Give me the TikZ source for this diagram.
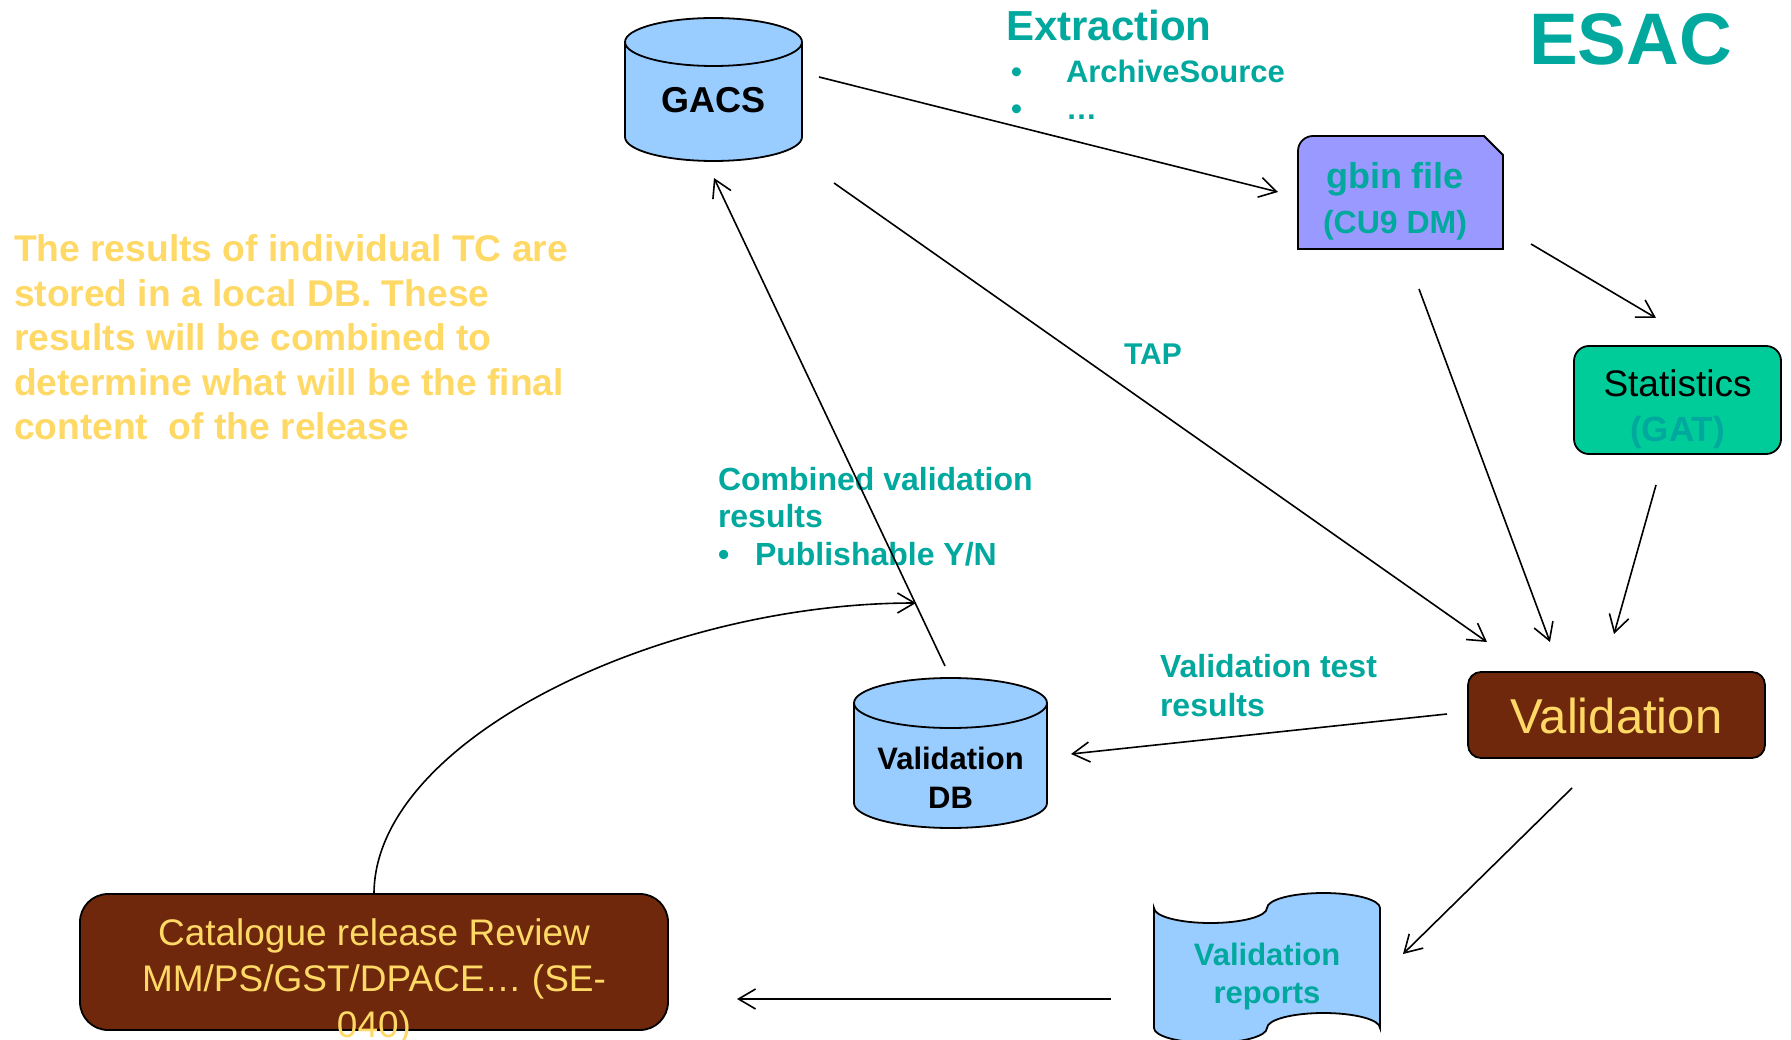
\documentclass[tikz,border=0pt]{standalone}
\usepackage{fontspec}
\setmainfont{Liberation Sans}
\usetikzlibrary{arrows.meta,calc}
\definecolor{esateal}{RGB}{0,168,158}
\definecolor{esayel}{RGB}{255,217,102}
\definecolor{esabrown}{RGB}{112,40,12}
\definecolor{cylblue}{RGB}{153,204,255}
\definecolor{lav}{RGB}{153,153,255}
\definecolor{statgreen}{RGB}{0,204,153}
\newcommand\txtlines[2]{\begin{tabular}[t]{@{}#1@{}}#2\end{tabular}}
\tikzset{
  conn/.style={-{Straight Barb[length=17pt,width=20pt]}, line width=1.6pt, black},
  shapeline/.style={draw=black, line width=1.8pt},
  anchorbox/.style={inner sep=0pt, outer sep=0pt, draw=none},
  boxnode/.style={anchorbox, shapeline},
  lbl/.style={inner sep=0pt, outer sep=0pt, anchor=base west, text=esateal},
  ctr/.style={inner sep=0pt, outer sep=0pt, anchor=base},
}
\begin{document}
\begin{tikzpicture}[x=1pt,y=-1pt]
\useasboundingbox (0,0) rectangle (1791,1040);
\fill[white] (0,0) rectangle (1791,1040);

% ---------- GACS cylinder
\path[fill=cylblue, shapeline] (625,42) -- (625,137)
  arc[start angle=180,end angle=0,x radius=88.5,y radius=24] -- (802,42)
  arc[start angle=0,end angle=-180,x radius=88.5,y radius=24] -- cycle;
\draw[shapeline] (625,42) arc[start angle=180,end angle=0,x radius=88.5,y radius=24];
\node[anchorbox, minimum width=177pt, minimum height=143pt] (gacs) at (713.5,89.5) {};
\node[ctr, font=\fontsize{36}{43}\selectfont\bfseries] (gacstxt) at (713.5,113) {GACS};

% ---------- Validation DB cylinder
\path[fill=cylblue, shapeline] (854,703) -- (854,803)
  arc[start angle=180,end angle=0,x radius=96.5,y radius=25] -- (1047,703)
  arc[start angle=0,end angle=-180,x radius=96.5,y radius=25] -- cycle;
\draw[shapeline] (854,703) arc[start angle=180,end angle=0,x radius=96.5,y radius=25];
\node[anchorbox, minimum width=193pt, minimum height=150pt] (vdb) at (950.5,753) {};
\node[ctr, font=\fontsize{31}{39}\selectfont\bfseries] (vdbtxt) at (950.5,769) {\txtlines{c}{Validation\\DB}};

% ---------- gbin file
\path[fill=lav, shapeline] (1298,249) -- (1298,151) arc[start angle=180,end angle=270,radius=15]
  -- (1484,136) -- (1503,155) -- (1503,249) -- cycle;
\node[anchorbox, minimum width=205pt, minimum height=113pt] (gbin) at (1400.5,192.5) {};
\node[ctr, text=esateal, font=\fontsize{36}{45}\selectfont\bfseries] (gbintxt) at (1395,188.5)
  {\txtlines{c}{gbin file\\\fontsize{32}{45}\selectfont (CU9 DM)}};

% ---------- Statistics
\node[boxnode, fill=statgreen, rounded corners=15pt, minimum width=207pt, minimum height=108pt] (stats) at (1677.5,400) {};
\node[ctr, font=\fontsize{37}{44}\selectfont] (statstxt) at (1677.5,397)
  {\txtlines{c}{Statistics\\\fontsize{35}{44}\selectfont\bfseries\color{esateal}(GAT)}};

% ---------- Validation
\node[boxnode, fill=esabrown, rounded corners=13pt, minimum width=297pt, minimum height=86pt] (valid) at (1616.5,715) {};
\node[ctr, text=esayel, font=\fontsize{49}{58}\selectfont] (validtxt) at (1616.5,733) {Validation};

% ---------- Validation reports (punched tape)
\path[fill=cylblue, shapeline] (1154,908)
  arc[start angle=180,end angle=0,x radius=56.5,y radius=15]
  arc[start angle=180,end angle=360,x radius=56.5,y radius=15]
  -- (1380,1028)
  arc[start angle=0,end angle=-180,x radius=56.5,y radius=15]
  arc[start angle=0,end angle=180,x radius=56.5,y radius=15]
  -- cycle;
\node[anchorbox, minimum width=226pt, minimum height=120pt] (vrep) at (1267,968) {};
\node[ctr, text=esateal, font=\fontsize{31}{38}\selectfont\bfseries] (vreptxt) at (1267,965) {\txtlines{c}{Validation\\reports}};

% ---------- Catalogue release review
\node[boxnode, fill=esabrown, rounded corners=28pt, minimum width=588pt, minimum height=136pt] (cat) at (374,962) {};
\node[ctr, text=esayel, font=\fontsize{37}{46}\selectfont] (cattxt) at (374,945)
  {\txtlines{c}{Catalogue release Review\\MM/PS/GST/DPACE… (SE-\\040)}};

% ---------- free texts
\node[ctr, text=esateal, font=\fontsize{73}{88}\selectfont\bfseries] (esac) at (1630.5,65) {ESAC};
\node[lbl, font=\fontsize{42}{50}\selectfont\bfseries] (extr) at (1006,41) {Extraction};
\node[lbl, font=\fontsize{31}{37}\selectfont\bfseries] (extrlist) at (1011,83)
  {\txtlines{l}{\makebox[55pt][l]{•}ArchiveSource\\\makebox[55pt][l]{•}…}};
\node[lbl, font=\fontsize{30}{36}\selectfont\bfseries] (tap) at (1124,365) {TAP};
\node[lbl, font=\fontsize{32}{37.5}\selectfont\bfseries] (comb) at (718,490)
  {\txtlines{l}{Combined validation\\results\\\makebox[37pt][l]{•}Publishable Y/N}};
\node[lbl, font=\fontsize{32}{39}\selectfont\bfseries] (vtest) at (1160,677)
  {\txtlines{l}{Validation test\\results}};
\node[lbl, text=esayel, font=\fontsize{37.2}{44.5}\selectfont\bfseries] (note) at (14,262)
  {\txtlines{l}{The results of individual TC are\\stored in a local DB. These\\results will be combined to\\determine what will be the final\\content\ \ of the release}};

% ---------- connectors
\draw[conn] ($(gacs.east)+(17,-12.5)$) -- ($(gbin.west)+(-20,-0.5)$);
\draw[conn] ($(gacs.south east)+(32,22)$) -- ($(valid.north west)+(19,-30)$);
\draw[conn] ($(gbin.south east)+(28,-5)$) -- ($(stats.north)+(-21.5,-28)$);
\draw[conn] ($(gbin.south)+(18.5,40)$) -- ($(valid.north)+(-66.5,-30)$);
\draw[conn] ($(stats.south)+(-21.5,31)$) -- ($(valid.north)+(-2.5,-38)$);
\draw[conn] ($(valid.west)+(-21,-1)$) -- ($(vdb.east)+(24,1)$);
\draw[conn] ($(valid.south)+(-44.5,30)$) -- ($(vrep.east)+(23,-14)$);
\draw[conn] ($(vrep.west)+(-43,31)$) -- ($(cat.east)+(69,37)$);
\draw[conn] ($(vdb.north)+(-5.5,-12)$) -- ($(gacs.south)+(0.5,17)$);
\coordinate (cbend) at (916,603);
\draw[conn] (cat.north) .. controls ($(cat.north)+(0,-154)$) and ($(cbend)+(-256,0)$) .. (cbend);
\end{tikzpicture}
\end{document}
